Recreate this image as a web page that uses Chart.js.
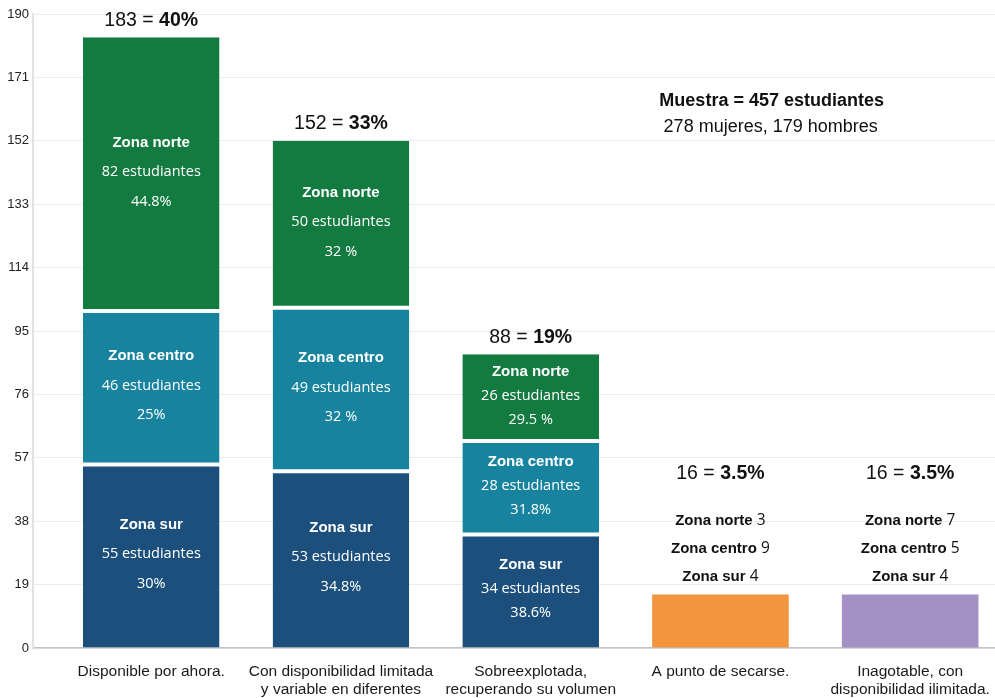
<!DOCTYPE html>
<html>
<head>
<meta charset="utf-8">
<script src="https://cdn.jsdelivr.net/npm/chart.js@4"></script>
<style>
  html, body { margin: 0; padding: 0; background: #fff; overflow: hidden; }
  #wrap { width: 995px; height: 698px; }
</style>
</head>
<body>
<div id="wrap"><canvas id="chart" width="995" height="698"></canvas></div>
<script>
const categories = [
    ['Disponible por ahora.'],
    ['Con disponibilidad limitada', 'y variable en diferentes'],
    ['Sobreexplotada,', 'recuperando su volumen'],
    ['A punto de secarse.'],
    ['Inagotable, con', 'disponibilidad ilimitada.']
];

// stacked segments (first three answers)
const zonaSur = [55, 53, 34, null, null];
const zonaCentro = [46, 49, 28, null, null];
const zonaNorte = [82, 50, 26, null, null];
const pctSur = ['30%', '34.8%', '38.6%'];
const pctCentro = ['25%', '32 %', '31.8%'];
const pctNorte = ['44.8%', '32 %', '29.5 %'];

// single bars (last two answers)
const otros = [null, null, null, 16, 16];
const detalleNorte = [null, null, null, 3, 7];
const detalleCentro = [null, null, null, 9, 5];
const detalleSur = [null, null, null, 4, 4];

const totales = [183, 152, 88, 16, 16];
const porcentajes = ['40%', '33%', '19%', '3.5%', '3.5%'];

const yTicks = [0, 19, 38, 57, 76, 95, 114, 133, 152, 171, 190];

const colors = {
    norte: '#137a40',
    centro: '#18839e',
    sur: '#1c4f7c',
    otros: ['#f3953f', '#a490c3']
};

const SANS = '"Liberation Sans", Arial, sans-serif';
const SOFT = '"Open Sans", sans-serif';

function points(values) {
    return values.map((v, i) => ({ x: i, y: v }));
}

// Draw "183 = 40%" with the share in bold, centred on x
function drawMixed(ctx, parts, x, y) {
    let total = 0;
    parts.forEach(p => { ctx.font = p.font; total += ctx.measureText(p.text).width; });
    let cx = x - total / 2;
    ctx.textAlign = 'left';
    parts.forEach(p => {
        ctx.font = p.font;
        ctx.fillText(p.text, cx, y);
        cx += ctx.measureText(p.text).width;
    });
}

const labelsPlugin = {
    id: 'labelsPlugin',
    afterDatasetsDraw(chart) {
        const ctx = chart.ctx;
        const yScale = chart.scales.y;
        const xScale = chart.scales.x;
        ctx.save();
        ctx.textBaseline = 'middle';

        // labels inside the stacked segments
        const zonas = [
            { ds: 0, name: 'Zona sur', counts: zonaSur, pcts: pctSur },
            { ds: 1, name: 'Zona centro', counts: zonaCentro, pcts: pctCentro },
            { ds: 2, name: 'Zona norte', counts: zonaNorte, pcts: pctNorte }
        ];
        ctx.fillStyle = '#ffffff';
        zonas.forEach(z => {
            chart.getDatasetMeta(z.ds).data.forEach((bar, i) => {
                if (z.counts[i] == null) return;
                const mid = (bar.y + bar.base) / 2 - 2;
                const step = Math.abs(bar.base - bar.y) < 120 ? 24 : 29.5;
                ctx.textAlign = 'center';
                ctx.font = 'bold 15px ' + SANS;
                ctx.fillText(z.name, bar.x, mid - step);
                ctx.font = '14.5px ' + SOFT;
                ctx.fillText(z.counts[i] + ' estudiantes', bar.x, mid);
                ctx.fillText(z.pcts[i], bar.x, mid + step);
            });
        });

        // totals above each bar
        ctx.fillStyle = '#111111';
        totales.forEach((t, i) => {
            const x = xScale.getPixelForValue(i);
            const top = yScale.getPixelForValue(t);
            const small = otros[i] != null;
            const y = small ? top - 121 : top - 17;
            drawMixed(ctx, [
                { text: t + ' = ', font: '19.5px ' + SANS },
                { text: porcentajes[i], font: 'bold 19.5px ' + SANS }
            ], x, y);
            if (small) {
                const rows = [
                    ['Zona norte', detalleNorte[i]],
                    ['Zona centro', detalleCentro[i]],
                    ['Zona sur', detalleSur[i]]
                ];
                rows.forEach((r, k) => {
                    drawMixed(ctx, [
                        { text: r[0] + ' ', font: 'bold 15px ' + SANS },
                        { text: String(r[1]), font: '15.5px ' + SOFT }
                    ], x, top - 74 + k * 28);
                });
            }
        });

        // sample note
        const nx = xScale.getPixelForValue(3.27);
        const ny = yScale.getPixelForValue(164);
        ctx.textAlign = 'center';
        ctx.font = 'bold 18px ' + SANS;
        ctx.fillText('Muestra = 457 estudiantes', nx, ny);
        ctx.font = '18px ' + SANS;
        ctx.fillText('278 mujeres, 179 hombres', nx - 1, ny + 26);
        ctx.restore();
    }
};

const ctx = document.getElementById('chart').getContext('2d');
new Chart(ctx, {
    type: 'bar',
    data: {
        datasets: [
            {
                label: 'Zona sur',
                data: points(zonaSur),
                backgroundColor: colors.sur,
                borderColor: '#ffffff',
                borderWidth: { top: 2, bottom: 0, left: 0, right: 0 },
                borderSkipped: false
            },
            {
                label: 'Zona centro',
                data: points(zonaCentro),
                backgroundColor: colors.centro,
                borderColor: '#ffffff',
                borderWidth: { top: 2, bottom: 2, left: 0, right: 0 },
                borderSkipped: false
            },
            {
                label: 'Zona norte',
                data: points(zonaNorte),
                backgroundColor: colors.norte,
                borderColor: '#ffffff',
                borderWidth: { top: 0, bottom: 2, left: 0, right: 0 },
                borderSkipped: false
            },
            {
                label: 'Total',
                data: points(otros),
                backgroundColor: [null, null, null].concat(colors.otros),
                borderWidth: 0
            }
        ]
    },
    options: {
        responsive: false,
        animation: false,
        inflateAmount: 0,
        barPercentage: 0.72,
        categoryPercentage: 1,
        layout: { padding: { top: 14, right: 0, left: 0, bottom: 0 } },
        plugins: {
            legend: { display: false },
            tooltip: { enabled: false }
        },
        scales: {
            x: {
                type: 'linear',
                offset: false,
                stacked: true,
                min: -0.623,
                max: 4.447,
                grid: { display: false, drawTicks: false, offset: false },
                border: { color: '#c4c4c4', width: 1.5 },
                ticks: {
                    stepSize: 1,
                    includeBounds: false,
                    autoSkip: false,
                    maxRotation: 0,
                    padding: 14,
                    color: '#1a1a1a',
                    font: { family: SANS, size: 15.5 },
                    callback: v => (Number.isInteger(v) && categories[v]) ? categories[v] : ''
                },
                afterFit: s => { s.height = 50; s.paddingLeft = 0; s.paddingRight = 0; }
            },
            y: {
                stacked: true,
                min: 0,
                max: 190,
                afterBuildTicks: s => { s.ticks = yTicks.map(v => ({ value: v })); },
                grid: { color: '#ececec', lineWidth: 1, drawTicks: false },
                border: { color: '#e2e2e2', width: 2 },
                ticks: {
                    padding: 4,
                    color: '#222222',
                    font: { family: SANS, size: 13 }
                },
                afterFit: s => { s.width = 33; }
            }
        }
    },
    plugins: [labelsPlugin]
});
</script>
</body>
</html>
